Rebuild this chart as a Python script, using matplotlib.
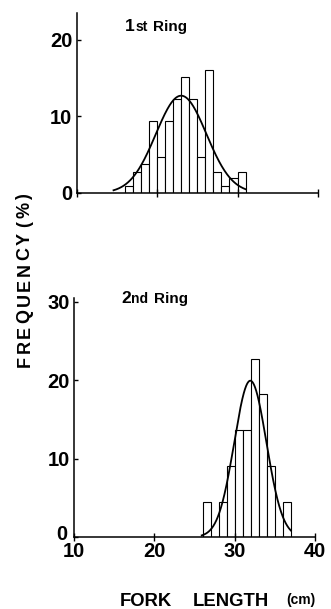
import matplotlib
matplotlib.use("Agg")
import matplotlib.pyplot as plt
import matplotlib.transforms as mtransforms
import numpy as np

plt.rcParams['font.family'] = ['Liberation Sans', 'DejaVu Sans']
plt.rcParams['font.weight'] = 'bold'

# fork length classes (cm, left edge of 1 cm class) and frequency (%)
ring1_len = [16, 17, 18, 19, 20, 21, 22, 23, 24, 25, 26, 27, 28, 29, 30]
ring1_pct = [0.9, 2.8, 3.8, 9.4, 4.7, 9.4, 12.3, 15.1, 12.3, 4.7, 16.0, 2.8, 0.9, 1.9, 2.8]
ring2_len = [26, 27, 28, 29, 30, 31, 32, 33, 34, 35, 36]
ring2_pct = [4.5, 0.0, 4.5, 9.1, 13.6, 13.6, 22.7, 18.2, 9.1, 0.0, 4.5]

# fitted normal curves (mean, sd, drawn range)
ring1_fit = (23.0, 3.14, 14.6, 31.0)
ring2_fit = (31.95, 2.0, 25.9, 37.0)

W, H = 331, 609
fig = plt.figure(figsize=(W / 100, H / 100), dpi=100)


def px_axes(left, right, bottom, top):
    return fig.add_axes([left / W, 1 - bottom / H, (right - left) / W, (bottom - top) / H])


def draw_panel(ax, lens, pct, fit, ymax, yticks):
    ax.bar(lens, pct, width=1, align='edge', color='white', edgecolor='black', linewidth=0.8)
    mu, sd, lo, hi = fit
    x = np.linspace(lo, hi, 300)
    y = 100 / (sd * np.sqrt(2 * np.pi)) * np.exp(-0.5 * ((x - mu) / sd) ** 2)
    ax.plot(x, y, color='black', linewidth=1.3)
    ax.set_xlim(10, 40)
    ax.set_ylim(0, ymax)
    ax.set_yticks(yticks)
    ax.set_xticks([10, 20, 30, 40])
    for s in ['top', 'right']:
        ax.spines[s].set_visible(False)
    for s in ['left', 'bottom']:
        ax.spines[s].set_linewidth(1.1)
    ax.tick_params(axis='y', direction='in', length=3, width=1, pad=3, labelsize=14.5)
    ax.tick_params(axis='x', direction='inout', length=6, width=1, pad=0.5, labelsize=14.5)


def ring_title(ax, x, y, num, suffix):
    t1 = ax.text(x, y, num, fontsize=12.5, fontweight='bold', va='baseline')
    t2 = ax.annotate(suffix, xy=(1, y), xycoords=(t1, 'data'), xytext=(0.5, 0),
                     textcoords='offset points', fontsize=10, fontweight='bold', va='baseline')
    ax.annotate('Ring', xy=(1, y), xycoords=(t2, 'data'), xytext=(4, 0),
                textcoords='offset points', fontsize=11, fontweight='bold', va='baseline')


ax1 = px_axes(76.5, 318, 193, 13)
draw_panel(ax1, ring1_len, ring1_pct, ring1_fit, 23.5, [0, 10, 20])
ax1.tick_params(axis='x', labelbottom=False)
ring_title(ax1, 16.0, 21.1, '1', 'st')

ax2 = px_axes(74, 315, 537, 298)
draw_panel(ax2, ring2_len, ring2_pct, ring2_fit, 30.5, [0, 10, 20, 30])
ring_title(ax2, 15.85, 29.9, '2', 'nd')

# lift the corner "0" so it clears the "10" below it
zero = ax2.get_yticklabels()[0]
zero.set_transform(zero.get_transform() +
                   mtransforms.ScaledTranslation(-2 / 100, 5 / 100, fig.dpi_scale_trans))

# y label, letter-spaced
prev = fig.text(25 / W, 1 - 367 / H, 'F', rotation=90, ha='center', va='bottom',
                fontsize=13, fontweight='bold')
for ch in 'REQUENCY(%)':
    gap = 4.0 if ch == '(' else 1.9
    prev = ax2.annotate(ch, xy=(0.5, 1), xycoords=prev, xytext=(0, gap),
                        textcoords='offset points', rotation=90, ha='center', va='bottom',
                        fontsize=13, fontweight='bold', annotation_clip=False)

# x label
fig.text(120 / W, 1 - 606.5 / H, 'FORK', fontsize=13.3, fontweight='bold', va='baseline')
fig.text(193 / W, 1 - 606.5 / H, 'LENGTH', fontsize=13.3, fontweight='bold', va='baseline')
fig.text(286 / W, 1 - 604 / H, '(cm)', fontsize=10, fontweight='bold', va='baseline')

fig.savefig('out.png', dpi=100)
